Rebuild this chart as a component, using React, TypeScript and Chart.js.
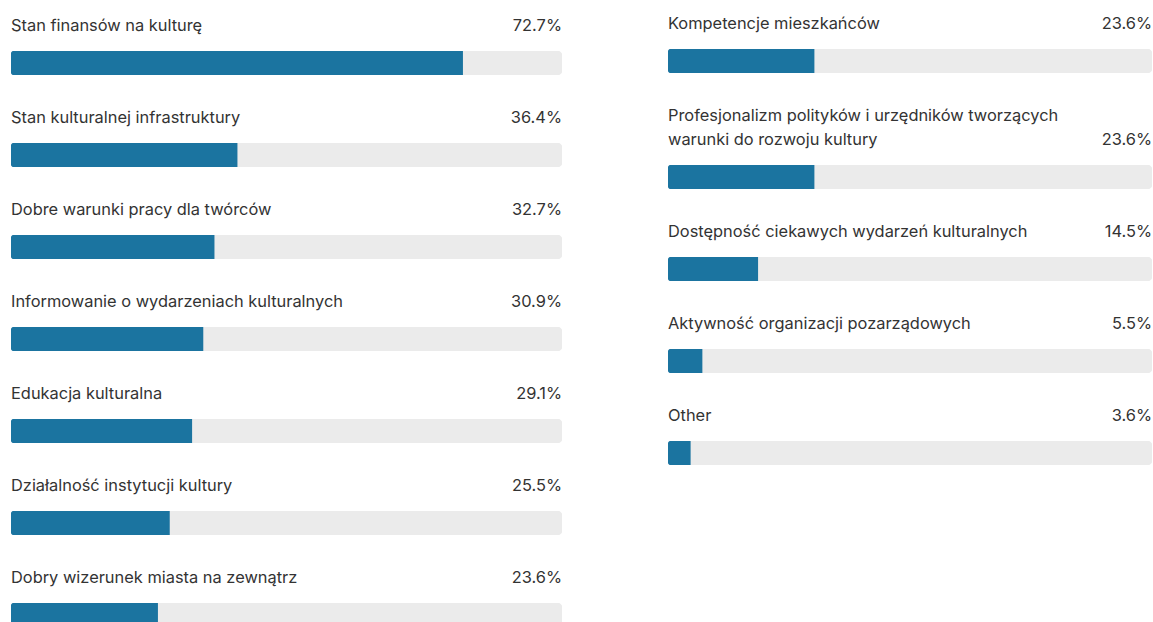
import React, { useEffect, useRef } from "react";
import { Chart, registerables } from "chart.js";

Chart.register(...registerables);

const leftCategories = [
  "Stan finansów na kulturę",
  "Stan kulturalnej infrastruktury",
  "Dobre warunki pracy dla twórców",
  "Informowanie o wydarzeniach kulturalnych",
  "Edukacja kulturalna",
  "Działalność instytucji kultury",
  "Dobry wizerunek miasta na zewnątrz",
];
const leftValues = [72.7, 36.4, 32.7, 30.9, 29.1, 25.5, 23.6];

const rightCategories = [
  "Kompetencje mieszkańców",
  "Profesjonalizm polityków i urzędników tworzących warunki do rozwoju kultury",
  "Dostępność ciekawych wydarzeń kulturalnych",
  "Aktywność organizacji pozarządowych",
  "Other",
];
const rightValues = [23.6, 23.6, 14.5, 5.5, 3.6];

const LEFT_AXIS_MAX = 88.7;
const RIGHT_AXIS_MAX = 78.2;

const BAR_COLOR = "#1b74a0";
const TRACK_COLOR = "#ebebeb";
const TEXT_COLOR = "#333333";
const FONT = "Inter, 'Noto Sans', sans-serif";

function BarRow({ label, value, max, width }: { label: string; value: number; max: number; width: number }) {
  const ref = useRef<HTMLCanvasElement>(null);
  useEffect(() => {
    const chart = new Chart(ref.current as HTMLCanvasElement, {
      type: "bar",
      data: {
        labels: [label],
        datasets: [
          {
            data: [value],
            backgroundColor: BAR_COLOR,
            borderRadius: 4,
            borderSkipped: "end",
            grouped: false,
            barPercentage: 1,
            categoryPercentage: 1,
          } as any,
          {
            data: [max],
            backgroundColor: TRACK_COLOR,
            borderRadius: 5,
            borderSkipped: false,
            grouped: false,
            barPercentage: 1,
            categoryPercentage: 1,
          } as any,
        ],
      },
      options: {
        indexAxis: "y",
        responsive: false,
        animation: false,
        layout: { padding: 0 },
        scales: {
          x: { display: false, min: 0, max },
          y: { display: false },
        },
        plugins: { legend: { display: false }, tooltip: { enabled: false } },
      },
    });
    return () => chart.destroy();
  }, [label, value, max, width]);

  return (
    <div style={{ width }}>
      <div
        style={{
          display: "flex",
          justifyContent: "space-between",
          alignItems: "flex-end",
          lineHeight: "24px",
        }}
      >
        <div style={{ maxWidth: 400 }}>{label}</div>
        <div>{value.toFixed(1)}%</div>
      </div>
      <canvas
        ref={ref}
        width={width}
        height={24}
        style={{ display: "block", marginTop: 14, marginBottom: 30, width, height: 24 }}
      />
    </div>
  );
}

export default function App() {
  return (
    <div
      style={{
        position: "fixed",
        left: 0,
        top: 0,
        width: 1153,
        height: 622,
        overflow: "hidden",
        background: "#ffffff",
        fontFamily: FONT,
        fontSize: 16.4,
        color: TEXT_COLOR,
      }}
    >
      <div style={{ position: "absolute", left: 11, top: 13 }}>
        {leftCategories.map((c, i) => (
          <BarRow key={c} label={c} value={leftValues[i]} max={LEFT_AXIS_MAX} width={551} />
        ))}
      </div>
      <div style={{ position: "absolute", left: 668, top: 11 }}>
        {rightCategories.map((c, i) => (
          <BarRow key={c} label={c} value={rightValues[i]} max={RIGHT_AXIS_MAX} width={484} />
        ))}
      </div>
    </div>
  );
}
